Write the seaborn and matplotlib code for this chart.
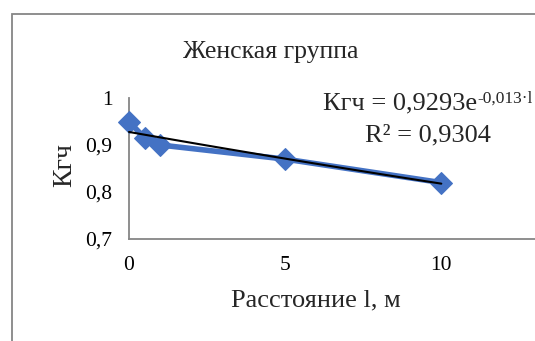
"""Женская группа: Кгч vs distance with exponential trend."""

import matplotlib.pyplot as plt
import numpy as np
import pandas as pd
import seaborn as sns
from matplotlib.patches import Rectangle

# data
distance = [0, 0.5, 1, 5, 10]
kgch = [0.95, 0.915, 0.90, 0.87, 0.82]
x_ticks = [0, 5, 10]
y_ticks = [0.7, 0.8, 0.9, 1.0]
eq_main = "Кгч = 0,9293e"
eq_exp = "-0,013·l"
r2_text = "R² = 0,9304"

BLUE = "#4472C4"
GREY = "#868686"

sns.set_theme(style="white")
plt.rcParams["font.family"] = ["Liberation Serif", "DejaVu Serif"]

df = pd.DataFrame({"distance": distance, "kgch": kgch})

# exponential trend, fitted the way the spreadsheet does (least squares on log y)
b, ln_a = np.polyfit(df["distance"], np.log(df["kgch"]), 1)
trend_x = np.linspace(min(distance), max(distance), 50)
trend = pd.DataFrame({"distance": trend_x, "kgch": np.exp(ln_a) * np.exp(b * trend_x)})

fig = plt.figure(figsize=(5.35, 3.41), dpi=100)
fig.patches.append(
    Rectangle((12 / 535, -0.1), 1.2, 1.1 - 14 / 341, transform=fig.transFigure,
              fill=False, edgecolor=GREY, linewidth=1.3, zorder=0)
)
ax = fig.add_axes([129 / 535, 102 / 341, 1 - 129 / 535, 141 / 341])

sns.lineplot(data=df, x="distance", y="kgch", ax=ax, color=BLUE, linewidth=4,
             marker="D", markersize=11, markeredgecolor=BLUE, zorder=3, clip_on=False)
sns.lineplot(data=trend, x="distance", y="kgch", ax=ax, color="black",
             linewidth=1.5, zorder=4, clip_on=False)

ax.set_xlim(0, 13)
ax.set_ylim(0.7, 1.0)
ax.set_xticks(x_ticks)
ax.set_yticks(y_ticks)
ax.xaxis.set_major_formatter(plt.FuncFormatter(lambda v, _: f"{v:g}"))
ax.yaxis.set_major_formatter(plt.FuncFormatter(lambda v, _: f"{v:g}".replace(".", ",")))
ax.tick_params(axis="both", labelsize=15.5, length=0, colors="black")
ax.tick_params(axis="x", pad=12)
ax.tick_params(axis="y", pad=12)

for side in ("top", "right"):
    ax.spines[side].set_visible(False)
for side in ("left", "bottom"):
    ax.spines[side].set_color(GREY)
    ax.spines[side].set_linewidth(1.3)

ax.set_xlabel("Расстояние l, м", fontsize=19)
ax.set_ylabel("Кгч", fontsize=20)
ax.xaxis.label.set_verticalalignment("center")
ax.yaxis.label.set_verticalalignment("center")
ax.xaxis.set_label_coords((316 - 129) / 406, (239 - 300) / 141)
ax.yaxis.set_label_coords((65 - 129) / 406, (239 - 165) / 141)

fig.text(271 / 535, 1 - 52 / 341, "Женская группа", ha="center", va="center",
         fontsize=18.5)

main = fig.text(323 / 535, 1 - 103 / 341, eq_main, ha="left", va="center", fontsize=19)
ax.annotate(eq_exp, xy=(1, 1), xycoords=main, ha="left", va="top",
            xytext=(0, 1), textcoords="offset points", fontsize=12.5,
            annotation_clip=False)
fig.text(428 / 535, 1 - 135 / 341, r2_text, ha="center", va="center", fontsize=19)

fig.savefig("out.png", dpi=100)
